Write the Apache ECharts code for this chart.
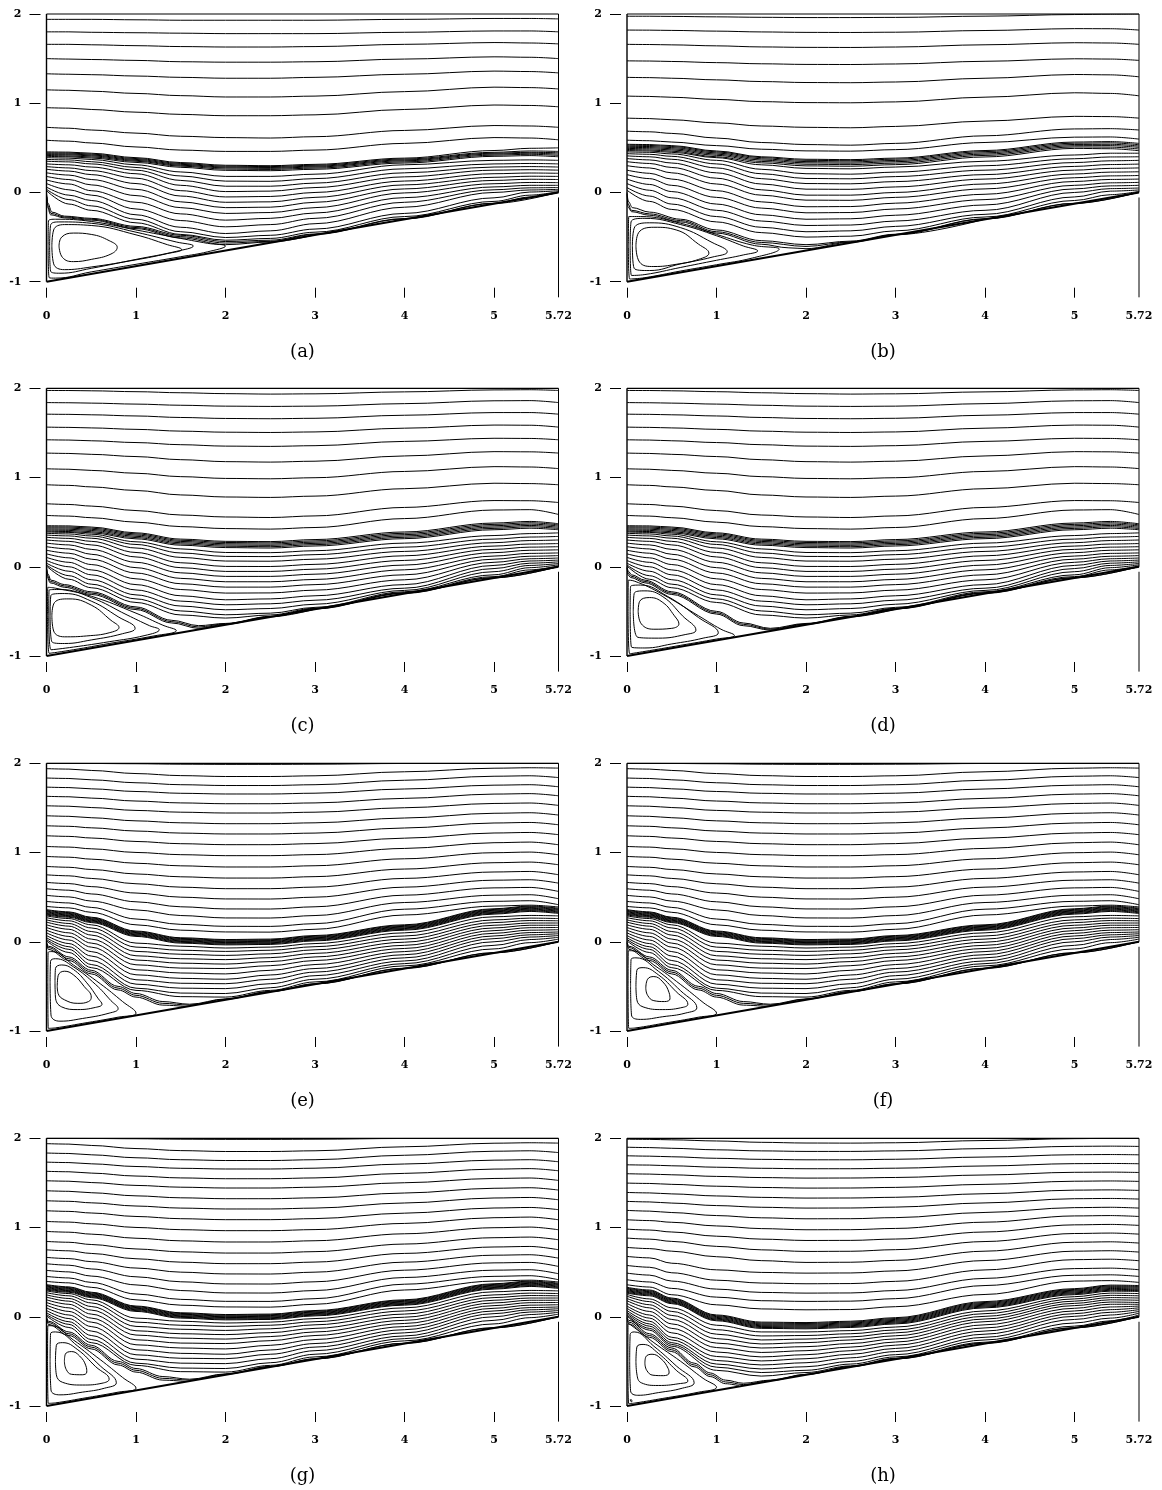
<!DOCTYPE html>
<html>
<head>
<meta charset="utf-8">
<script src="https://cdn.jsdelivr.net/npm/echarts@6/dist/echarts.min.js"></script>
<style>
html,body{margin:0;padding:0;background:#fff;}
#chart{width:1162px;height:1490px;}
</style>
</head>
<body>
<div id="chart"></div>
<script>
// Streamlines of the flow over a backward-inclined step, eight cases (a)-(h).
// Through-flow streamlines are sampled at the shared x stations below.
const X = [0, 0.25, 0.5, 1, 1.5, 2, 2.5, 3, 4, 5, 5.4, 5.72];

const xTickLabels = [0, 1, 2, 3, 4, 5, 5.72];
const xTickMarks = [0, 1, 2, 3, 4, 5];
const panelLabels = ['(a)', '(b)', '(c)', '(d)', '(e)', '(f)', '(g)', '(h)'];

// channel outline: top wall, inflow side, outflow side, inclined bottom wall
const topWall = [[0, 2], [5.72, 2]];
const inflowSide = [[0, -1], [0, 2]];
const outflowSide = [[5.72, 0], [5.72, 2]];
const bottomWall = [[0, -1], [5.72, 0]];
const outflowTick = [[5.72, -0.056], [5.72, -1.175]];

// ---------- (a) ----------
const upperA = [
  [1.94,1.94,1.94,1.935,1.93,1.93,1.93,1.93,1.94,1.95,1.95,1.945],
  [1.80,1.80,1.795,1.79,1.785,1.78,1.78,1.78,1.795,1.81,1.81,1.80],
  [1.66,1.66,1.655,1.645,1.635,1.63,1.63,1.635,1.66,1.68,1.675,1.665],
  [1.50,1.495,1.49,1.48,1.465,1.46,1.46,1.465,1.495,1.52,1.515,1.50],
  [1.33,1.325,1.32,1.305,1.29,1.28,1.28,1.29,1.325,1.36,1.355,1.34],
  [1.15,1.145,1.135,1.11,1.085,1.07,1.07,1.08,1.13,1.18,1.175,1.16],
  [0.95,0.945,0.93,0.90,0.875,0.86,0.86,0.87,0.93,0.98,0.975,0.96],
  [0.73,0.72,0.70,0.665,0.63,0.615,0.61,0.625,0.695,0.75,0.745,0.73],
  [0.585,0.575,0.555,0.51,0.475,0.46,0.46,0.475,0.55,0.615,0.61,0.59]
];
const bandA = [
  [0.455,0.452,0.44,0.39,0.335,0.305,0.30,0.315,0.385,0.47,0.495,0.50],
  [0.445,0.442,0.43,0.38,0.325,0.295,0.29,0.305,0.375,0.45,0.465,0.46],
  [0.435,0.432,0.42,0.37,0.315,0.285,0.28,0.295,0.365,0.44,0.45,0.445],
  [0.425,0.422,0.41,0.36,0.305,0.275,0.27,0.285,0.355,0.43,0.44,0.43],
  [0.415,0.41,0.398,0.35,0.295,0.262,0.258,0.273,0.343,0.418,0.428,0.415],
  [0.405,0.40,0.386,0.337,0.282,0.248,0.244,0.26,0.33,0.405,0.413,0.40]
];
const lowerA = [
  [0.39,0.385,0.37,0.31,0.23,0.18,0.18,0.205,0.31,0.36,0.365,0.36],
  [0.37,0.365,0.345,0.28,0.185,0.127,0.125,0.155,0.265,0.32,0.325,0.32],
  [0.35,0.343,0.32,0.25,0.135,0.07,0.07,0.105,0.22,0.285,0.29,0.285],
  [0.32,0.31,0.285,0.21,0.08,0.01,0.015,0.055,0.175,0.25,0.255,0.25],
  [0.29,0.275,0.245,0.16,0.02,-0.05,-0.045,0.0,0.128,0.21,0.218,0.215],
  [0.26,0.24,0.2,0.1,-0.04,-0.11,-0.105,-0.055,0.085,0.17,0.182,0.18],
  [0.22,0.195,0.145,0.035,-0.105,-0.17,-0.165,-0.11,0.04,0.135,0.148,0.145],
  [0.18,0.145,0.085,-0.035,-0.17,-0.235,-0.225,-0.17,-0.005,0.098,0.112,0.11],
  [0.14,0.095,0.02,-0.11,-0.24,-0.31,-0.29,-0.23,-0.058,0.062,0.08,0.08],
  [0.10,0.03,-0.03,-0.185,-0.315,-0.385,-0.36,-0.29,-0.11,0.03,0.052,0.055],
  [0.06,-0.03,-0.09,-0.25,-0.39,-0.46,-0.43,-0.35,-0.165,0.0,0.028,0.035],
  [0.035,-0.08,-0.15,-0.30,-0.44,-0.505,-0.48,-0.41,-0.235,-0.06,0.005,0.02],
  [0.02,-0.13,-0.2,-0.34,-0.47,-0.535,-0.515,-0.445,-0.27,-0.1,-0.03,0.01]
];
const sepA = [
  [[0,0],[0.015,-0.12],[0.06,-0.22],[0.2,-0.265],[0.5,-0.29],[1,-0.38],[1.5,-0.48],[2,-0.55],[2.5,-0.535],[3,-0.465],[4,-0.292],[5,-0.12],[5.4,-0.052],[5.72,0.004]],
  [[0,-0.02],[0.012,-0.14],[0.05,-0.235],[0.2,-0.275],[0.5,-0.3],[1,-0.393],[1.5,-0.495],[2,-0.567],[2.5,-0.548],[3,-0.47],[4,-0.296],[5,-0.123],[5.72,0.002]],
  [[0.005,-0.05],[0.01,-0.16],[0.045,-0.25],[0.2,-0.285],[0.5,-0.31],[1,-0.405],[1.5,-0.51],[2,-0.585],[2.5,-0.555],[3,-0.474]]
];
const eddyA = [
  [[0.14,-0.6],[0.17,-0.5],[0.3,-0.455],[0.5,-0.47],[0.7,-0.54],[0.79,-0.615],[0.72,-0.69],[0.5,-0.75],[0.3,-0.775],[0.18,-0.73],[0.14,-0.6]],
  [[0.06,-0.6],[0.08,-0.42],[0.2,-0.36],[0.5,-0.37],[1.0,-0.475],[1.35,-0.585],[1.51,-0.64],[1.35,-0.685],[1.0,-0.755],[0.5,-0.835],[0.2,-0.865],[0.08,-0.8],[0.06,-0.6]],
  [[0.035,-0.6],[0.045,-0.37],[0.15,-0.33],[0.5,-0.345],[1.0,-0.445],[1.45,-0.555],[1.64,-0.6],[1.45,-0.66],[1.0,-0.75],[0.5,-0.85],[0.15,-0.905],[0.045,-0.88],[0.035,-0.6]],
  [[0.018,-0.6],[0.022,-0.32],[0.1,-0.3],[0.5,-0.325],[1.0,-0.42],[1.5,-0.515],[1.8,-0.57],[2.0,-0.6],[1.8,-0.665],[1.5,-0.72],[1.0,-0.805],[0.5,-0.89],[0.1,-0.96],[0.03,-0.955],[0.018,-0.6]]
];

// ---------- (b) ----------
const upperB = [
  [1.975,1.975,1.973,1.968,1.963,1.96,1.96,1.962,1.976,1.994,1.998,2.0],
  [1.82,1.819,1.816,1.808,1.799,1.794,1.793,1.796,1.815,1.836,1.835,1.82],
  [1.66,1.658,1.654,1.643,1.631,1.626,1.625,1.63,1.655,1.678,1.675,1.66],
  [1.475,1.473,1.468,1.455,1.442,1.435,1.434,1.44,1.47,1.498,1.495,1.48],
  [1.29,1.287,1.28,1.262,1.243,1.232,1.23,1.238,1.28,1.322,1.318,1.296],
  [1.08,1.076,1.067,1.043,1.018,1.007,1.005,1.015,1.068,1.117,1.11,1.083],
  [0.833,0.828,0.815,0.78,0.745,0.73,0.725,0.74,0.8,0.853,0.85,0.833],
  [0.687,0.68,0.662,0.61,0.56,0.537,0.53,0.55,0.635,0.712,0.715,0.70],
  [0.586,0.58,0.565,0.525,0.485,0.466,0.463,0.48,0.56,0.62,0.622,0.598]
];
const bandB = [
  [0.54,0.537,0.525,0.465,0.40,0.372,0.368,0.385,0.47,0.565,0.57,0.55],
  [0.53,0.527,0.515,0.455,0.39,0.36,0.356,0.373,0.458,0.552,0.556,0.535],
  [0.518,0.515,0.503,0.443,0.377,0.346,0.342,0.359,0.444,0.538,0.54,0.52],
  [0.506,0.503,0.49,0.43,0.363,0.332,0.328,0.345,0.43,0.524,0.525,0.505],
  [0.494,0.49,0.477,0.416,0.348,0.316,0.312,0.329,0.415,0.51,0.508,0.487],
  [0.482,0.477,0.463,0.4,0.332,0.298,0.294,0.312,0.398,0.494,0.49,0.468]
];
const lowerB = [
  [0.47,0.465,0.45,0.39,0.31,0.27,0.265,0.285,0.35,0.42,0.44,0.44],
  [0.455,0.45,0.432,0.36,0.26,0.21,0.205,0.228,0.30,0.378,0.398,0.40],
  [0.435,0.428,0.405,0.32,0.21,0.157,0.153,0.178,0.25,0.335,0.355,0.36],
  [0.41,0.4,0.372,0.275,0.155,0.10,0.097,0.122,0.20,0.292,0.313,0.318],
  [0.38,0.365,0.33,0.22,0.095,0.037,0.035,0.062,0.15,0.25,0.27,0.275],
  [0.345,0.325,0.28,0.16,0.03,-0.03,-0.03,0.0,0.095,0.207,0.228,0.232],
  [0.30,0.275,0.22,0.095,-0.03,-0.086,-0.088,-0.055,0.04,0.165,0.186,0.19],
  [0.25,0.215,0.15,0.02,-0.105,-0.16,-0.158,-0.12,-0.02,0.123,0.146,0.15],
  [0.20,0.155,0.08,-0.055,-0.175,-0.228,-0.225,-0.185,-0.08,0.08,0.108,0.113],
  [0.15,0.09,0.01,-0.13,-0.25,-0.30,-0.295,-0.255,-0.14,0.04,0.074,0.08],
  [0.10,0.025,-0.06,-0.2,-0.32,-0.37,-0.365,-0.32,-0.2,0.0,0.043,0.05],
  [0.055,-0.04,-0.13,-0.27,-0.39,-0.44,-0.43,-0.38,-0.245,-0.05,0.015,0.028],
  [0.025,-0.1,-0.19,-0.33,-0.45,-0.50,-0.49,-0.43,-0.275,-0.09,-0.025,0.012]
];
const sepB = [
  [[0,0],[0.015,-0.1],[0.06,-0.17],[0.25,-0.22],[0.6,-0.3],[1,-0.42],[1.5,-0.54],[2,-0.585],[2.5,-0.545],[3,-0.468],[4,-0.294],[5,-0.121],[5.72,0.004]],
  [[0,-0.02],[0.012,-0.13],[0.05,-0.2],[0.25,-0.24],[0.6,-0.315],[1,-0.44],[1.5,-0.56],[2,-0.605],[2.5,-0.553],[3,-0.472],[4,-0.297],[5,-0.123],[5.72,0.002]],
  [[0.005,-0.05],[0.01,-0.16],[0.05,-0.215],[0.25,-0.255],[0.6,-0.33],[1,-0.455],[1.5,-0.58],[1.8,-0.62],[2,-0.63],[2.5,-0.558],[3,-0.474],[4,-0.299]]
];
const eddyB = [
  [[0.1,-0.6],[0.13,-0.45],[0.3,-0.39],[0.55,-0.42],[0.8,-0.58],[0.915,-0.68],[0.8,-0.75],[0.55,-0.805],[0.3,-0.83],[0.14,-0.78],[0.1,-0.6]],
  [[0.06,-0.6],[0.08,-0.4],[0.25,-0.34],[0.6,-0.395],[0.95,-0.56],[1.12,-0.665],[0.95,-0.725],[0.6,-0.8],[0.25,-0.875],[0.08,-0.85],[0.06,-0.6]],
  [[0.035,-0.6],[0.045,-0.33],[0.2,-0.29],[0.6,-0.36],[1.0,-0.485],[1.3,-0.6],[1.46,-0.655],[1.3,-0.7],[1.0,-0.76],[0.6,-0.84],[0.2,-0.92],[0.05,-0.93],[0.035,-0.6]],
  [[0.015,-0.6],[0.02,-0.27],[0.15,-0.27],[0.6,-0.345],[1.0,-0.47],[1.4,-0.59],[1.7,-0.635],[1.4,-0.735],[1.0,-0.81],[0.6,-0.88],[0.2,-0.955],[0.03,-0.97],[0.015,-0.6]]
];

// ---------- (c) and (d): outer flow ----------
const upperCD = [
  [1.976,1.975,1.972,1.962,1.95,1.94,1.935,1.938,1.96,1.982,1.984,1.976],
  [1.84,1.838,1.834,1.823,1.81,1.8,1.797,1.8,1.828,1.86,1.862,1.84],
  [1.71,1.708,1.703,1.69,1.673,1.662,1.659,1.664,1.698,1.728,1.728,1.71],
  [1.565,1.562,1.556,1.54,1.52,1.508,1.505,1.511,1.553,1.588,1.586,1.565],
  [1.423,1.42,1.412,1.392,1.368,1.352,1.349,1.357,1.405,1.44,1.438,1.423],
  [1.274,1.27,1.26,1.235,1.2,1.178,1.173,1.183,1.242,1.29,1.288,1.274],
  [1.098,1.093,1.08,1.048,1.01,0.99,0.986,0.998,1.068,1.122,1.118,1.10],
  [0.919,0.912,0.895,0.855,0.805,0.782,0.777,0.792,0.875,0.936,0.932,0.919],
  [0.706,0.698,0.68,0.63,0.58,0.558,0.552,0.57,0.665,0.742,0.74,0.72],
  [0.575,0.568,0.55,0.5,0.45,0.428,0.422,0.44,0.54,0.636,0.64,0.586]
];
const bandCD = [
  [0.46,0.458,0.445,0.38,0.31,0.285,0.282,0.305,0.39,0.49,0.508,0.482],
  [0.448,0.446,0.433,0.368,0.297,0.272,0.268,0.29,0.375,0.475,0.493,0.47],
  [0.436,0.434,0.42,0.355,0.284,0.258,0.254,0.276,0.36,0.46,0.478,0.457],
  [0.424,0.421,0.407,0.341,0.27,0.244,0.24,0.262,0.345,0.445,0.463,0.443],
  [0.412,0.408,0.393,0.327,0.256,0.23,0.225,0.248,0.33,0.43,0.448,0.429],
  [0.40,0.395,0.38,0.313,0.242,0.215,0.21,0.233,0.315,0.415,0.432,0.415]
];
const lowerCD = [
  [0.39,0.385,0.365,0.28,0.2,0.16,0.158,0.18,0.265,0.35,0.372,0.38],
  [0.375,0.368,0.345,0.25,0.155,0.116,0.114,0.136,0.22,0.31,0.333,0.34],
  [0.355,0.346,0.32,0.21,0.105,0.064,0.062,0.085,0.172,0.27,0.294,0.30],
  [0.33,0.318,0.285,0.16,0.045,0.004,0.003,0.027,0.123,0.232,0.255,0.26],
  [0.30,0.285,0.245,0.11,-0.01,-0.052,-0.052,-0.027,0.071,0.195,0.22,0.225],
  [0.265,0.245,0.195,0.05,-0.068,-0.108,-0.108,-0.083,0.019,0.158,0.185,0.19],
  [0.225,0.2,0.14,-0.01,-0.13,-0.168,-0.168,-0.142,-0.034,0.12,0.15,0.155],
  [0.185,0.152,0.085,-0.07,-0.19,-0.228,-0.228,-0.2,-0.09,0.085,0.118,0.125],
  [0.145,0.1,0.025,-0.135,-0.255,-0.295,-0.293,-0.262,-0.146,0.05,0.09,0.098],
  [0.105,0.05,-0.035,-0.2,-0.325,-0.37,-0.36,-0.325,-0.2,0.015,0.065,0.075],
  [0.07,0.0,-0.09,-0.26,-0.385,-0.426,-0.415,-0.375,-0.24,-0.02,0.04,0.055],
  [0.04,-0.05,-0.145,-0.315,-0.44,-0.482,-0.468,-0.42,-0.265,-0.055,0.015,0.037],
  [0.02,-0.1,-0.195,-0.36,-0.495,-0.538,-0.52,-0.455,-0.28,-0.09,-0.01,0.022],
  [0.008,-0.14,-0.235,-0.4,-0.54,-0.575,-0.54,-0.465,-0.29,-0.11,-0.035,0.01]
];
const sepC = [
  [[0,0],[0.015,-0.08],[0.05,-0.15],[0.2,-0.2],[0.5,-0.28],[1,-0.45],[1.4,-0.6],[1.7,-0.66],[2,-0.635],[2.5,-0.556],[3,-0.47],[4,-0.295],[5,-0.122],[5.72,0.003]],
  [[0,-0.015],[0.012,-0.1],[0.045,-0.165],[0.2,-0.215],[0.5,-0.295],[1,-0.465],[1.4,-0.615],[1.7,-0.675],[2,-0.64],[2.5,-0.559],[3,-0.473],[4,-0.298],[5,-0.124],[5.72,0.002]],
  [[0.005,-0.04],[0.01,-0.12],[0.04,-0.18],[0.2,-0.23],[0.5,-0.31],[1,-0.48],[1.4,-0.63],[1.7,-0.69],[2,-0.645],[2.5,-0.561],[3,-0.475]]
];
const eddyC = [
  [[0.06,-0.55],[0.09,-0.4],[0.25,-0.36],[0.5,-0.43],[0.72,-0.6],[0.81,-0.68],[0.7,-0.74],[0.45,-0.775],[0.2,-0.785],[0.08,-0.72],[0.06,-0.55]],
  [[0.04,-0.55],[0.05,-0.32],[0.2,-0.3],[0.5,-0.385],[0.8,-0.56],[0.99,-0.69],[0.85,-0.75],[0.5,-0.82],[0.2,-0.86],[0.06,-0.84],[0.04,-0.55]],
  [[0.025,-0.55],[0.03,-0.26],[0.15,-0.255],[0.5,-0.345],[0.9,-0.54],[1.15,-0.66],[1.26,-0.705],[1.1,-0.77],[0.7,-0.84],[0.3,-0.9],[0.05,-0.93],[0.025,-0.55]],
  [[0.012,-0.55],[0.015,-0.23],[0.1,-0.24],[0.5,-0.33],[1.0,-0.52],[1.3,-0.655],[1.45,-0.715],[1.2,-0.775],[0.7,-0.86],[0.3,-0.93],[0.03,-0.97],[0.012,-0.55]]
];
const sepD = [
  [[0,0],[0.015,-0.05],[0.05,-0.09],[0.2,-0.15],[0.5,-0.28],[1,-0.5],[1.3,-0.63],[1.6,-0.69],[2,-0.635],[2.5,-0.556],[3,-0.47],[4,-0.295],[5,-0.122],[5.72,0.003]],
  [[0,-0.015],[0.012,-0.07],[0.045,-0.105],[0.2,-0.165],[0.5,-0.295],[1,-0.515],[1.3,-0.645],[1.6,-0.7],[2,-0.64],[2.5,-0.559],[3,-0.473],[4,-0.298],[5,-0.124],[5.72,0.002]],
  [[0.005,-0.035],[0.01,-0.09],[0.04,-0.12],[0.2,-0.18],[0.5,-0.31],[1,-0.53],[1.3,-0.66],[1.6,-0.71],[2,-0.645],[2.5,-0.561],[3,-0.475]]
];
const eddyD = [
  [[0.125,-0.5],[0.14,-0.39],[0.25,-0.345],[0.4,-0.4],[0.53,-0.55],[0.58,-0.64],[0.5,-0.69],[0.3,-0.70],[0.16,-0.64],[0.125,-0.5]],
  [[0.07,-0.5],[0.08,-0.3],[0.2,-0.27],[0.4,-0.335],[0.62,-0.55],[0.77,-0.71],[0.65,-0.76],[0.35,-0.8],[0.12,-0.79],[0.07,-0.5]],
  [[0.035,-0.5],[0.04,-0.22],[0.15,-0.205],[0.45,-0.33],[0.8,-0.57],[1.02,-0.74],[0.85,-0.8],[0.5,-0.865],[0.2,-0.91],[0.05,-0.9],[0.035,-0.5]],
  [[0.012,-0.5],[0.015,-0.15],[0.08,-0.16],[0.4,-0.31],[0.8,-0.55],[1.05,-0.7],[1.2,-0.77],[1.0,-0.81],[0.6,-0.88],[0.25,-0.94],[0.03,-0.975],[0.012,-0.5]]
];

// ---------- (e), (f), (g): outer flow ----------
const upperEFG = [
  [2.0,2.0,1.998,1.995,1.99,1.988,1.988,1.99,1.998,2.0,2.0,2.0],
  [1.94,1.935,1.92,1.885,1.862,1.852,1.852,1.86,1.905,1.945,1.95,1.946],
  [1.835,1.83,1.815,1.782,1.76,1.751,1.751,1.76,1.81,1.855,1.86,1.84],
  [1.733,1.728,1.714,1.684,1.664,1.656,1.656,1.665,1.712,1.755,1.76,1.737],
  [1.63,1.625,1.61,1.577,1.556,1.547,1.547,1.556,1.607,1.655,1.66,1.636],
  [1.524,1.519,1.504,1.472,1.452,1.443,1.443,1.452,1.502,1.55,1.555,1.528],
  [1.412,1.406,1.39,1.355,1.333,1.323,1.323,1.333,1.387,1.44,1.446,1.42],
  [1.30,1.294,1.277,1.241,1.218,1.208,1.208,1.218,1.275,1.331,1.337,1.311],
  [1.188,1.181,1.163,1.124,1.099,1.088,1.088,1.1,1.161,1.219,1.225,1.2],
  [1.068,1.061,1.042,1.001,0.976,0.965,0.965,0.977,1.046,1.11,1.117,1.087],
  [0.956,0.948,0.926,0.88,0.851,0.838,0.838,0.852,0.93,0.998,1.005,0.975],
  [0.844,0.835,0.81,0.76,0.728,0.714,0.714,0.73,0.815,0.886,0.893,0.863],
  [0.75,0.739,0.71,0.65,0.612,0.595,0.595,0.613,0.71,0.782,0.788,0.751],
  [0.665,0.652,0.618,0.546,0.5,0.48,0.479,0.5,0.612,0.69,0.695,0.657],
  [0.594,0.578,0.536,0.448,0.392,0.368,0.367,0.392,0.522,0.604,0.609,0.564],
  [0.52,0.503,0.456,0.357,0.294,0.267,0.266,0.294,0.44,0.522,0.527,0.482],
  [0.452,0.435,0.385,0.255,0.195,0.173,0.172,0.203,0.365,0.453,0.46,0.415],
  [0.396,0.38,0.33,0.19,0.13,0.11,0.108,0.14,0.3,0.4,0.41,0.39]
];
const bandEFG = [
  [0.36,0.335,0.275,0.12,0.045,0.025,0.03,0.07,0.19,0.37,0.40,0.377],
  [0.352,0.327,0.267,0.112,0.037,0.017,0.022,0.062,0.182,0.362,0.392,0.369],
  [0.343,0.318,0.258,0.103,0.028,0.008,0.013,0.053,0.173,0.353,0.383,0.36],
  [0.335,0.31,0.25,0.095,0.02,0.0,0.005,0.045,0.165,0.345,0.375,0.352],
  [0.326,0.301,0.241,0.086,0.011,-0.009,-0.004,0.036,0.156,0.336,0.366,0.343],
  [0.318,0.293,0.233,0.078,0.003,-0.017,-0.012,0.028,0.148,0.328,0.358,0.335],
  [0.309,0.284,0.224,0.069,-0.006,-0.026,-0.021,0.019,0.139,0.319,0.349,0.326],
  [0.30,0.275,0.215,0.06,-0.015,-0.035,-0.03,0.01,0.13,0.31,0.34,0.317]
];
const lowerEFG = [
  [0.29,0.26,0.19,-0.015,-0.05,-0.07,-0.06,-0.02,0.10,0.28,0.295,0.29],
  [0.27,0.235,0.155,-0.06,-0.095,-0.108,-0.095,-0.055,0.065,0.245,0.265,0.26],
  [0.245,0.205,0.115,-0.108,-0.14,-0.153,-0.135,-0.09,0.03,0.215,0.238,0.235],
  [0.22,0.175,0.075,-0.157,-0.19,-0.2,-0.178,-0.13,-0.005,0.185,0.21,0.21],
  [0.19,0.14,0.03,-0.205,-0.24,-0.25,-0.222,-0.17,-0.04,0.155,0.185,0.185],
  [0.16,0.1,-0.015,-0.258,-0.295,-0.30,-0.268,-0.21,-0.075,0.125,0.158,0.16],
  [0.13,0.06,-0.06,-0.314,-0.35,-0.36,-0.32,-0.255,-0.11,0.095,0.13,0.135],
  [0.10,0.02,-0.11,-0.37,-0.41,-0.42,-0.372,-0.30,-0.145,0.065,0.103,0.11],
  [0.07,-0.02,-0.16,-0.426,-0.465,-0.47,-0.42,-0.34,-0.18,0.035,0.078,0.09],
  [0.045,-0.055,-0.21,-0.475,-0.52,-0.525,-0.47,-0.38,-0.215,0.0,0.053,0.07],
  [0.025,-0.085,-0.255,-0.52,-0.575,-0.58,-0.515,-0.42,-0.245,-0.04,0.025,0.05],
  [0.01,-0.12,-0.29,-0.545,-0.615,-0.62,-0.545,-0.45,-0.27,-0.08,-0.01,0.03]
];
const sepEFG = [
  [[0,0],[0.02,-0.05],[0.25,-0.17],[0.5,-0.32],[0.8,-0.5],[1.0,-0.58],[1.3,-0.67],[1.6,-0.7],[2,-0.64],[2.5,-0.557],[3,-0.471],[4,-0.296],[5,-0.122],[5.72,0.003]],
  [[0,-0.015],[0.02,-0.065],[0.25,-0.19],[0.5,-0.34],[0.8,-0.52],[1.0,-0.6],[1.3,-0.69],[1.6,-0.71],[2,-0.644],[2.5,-0.559],[3,-0.473],[4,-0.298],[5,-0.124],[5.72,0.002]],
  [[0.005,-0.035],[0.02,-0.085],[0.25,-0.21],[0.5,-0.36],[0.8,-0.54],[1.0,-0.62],[1.3,-0.71],[1.55,-0.725]]
];
const eddyE = [
  [[0.12,-0.5],[0.13,-0.38],[0.2,-0.33],[0.3,-0.37],[0.42,-0.5],[0.5,-0.62],[0.47,-0.67],[0.35,-0.69],[0.2,-0.65],[0.13,-0.58],[0.12,-0.5]],
  [[0.095,-0.45],[0.1,-0.3],[0.17,-0.26],[0.3,-0.31],[0.45,-0.46],[0.58,-0.64],[0.62,-0.7],[0.55,-0.735],[0.35,-0.76],[0.17,-0.73],[0.1,-0.62],[0.095,-0.45]],
  [[0.04,-0.45],[0.045,-0.22],[0.1,-0.19],[0.3,-0.28],[0.55,-0.48],[0.72,-0.66],[0.80,-0.75],[0.7,-0.8],[0.4,-0.86],[0.15,-0.89],[0.05,-0.82],[0.04,-0.45]],
  [[0.015,-0.45],[0.018,-0.12],[0.06,-0.11],[0.3,-0.26],[0.6,-0.47],[0.85,-0.67],[1.0,-0.8],[0.8,-0.845],[0.4,-0.915],[0.1,-0.965],[0.02,-0.97],[0.015,-0.45]]
];
const eddyF = [
  [[0.21,-0.52],[0.23,-0.42],[0.3,-0.39],[0.4,-0.45],[0.47,-0.57],[0.48,-0.64],[0.42,-0.67],[0.3,-0.66],[0.23,-0.6],[0.21,-0.52]],
  [[0.1,-0.5],[0.11,-0.32],[0.18,-0.29],[0.35,-0.37],[0.55,-0.56],[0.68,-0.7],[0.6,-0.74],[0.4,-0.76],[0.18,-0.73],[0.11,-0.65],[0.1,-0.5]],
  [[0.04,-0.5],[0.045,-0.2],[0.1,-0.18],[0.35,-0.33],[0.6,-0.55],[0.78,-0.74],[0.65,-0.8],[0.4,-0.84],[0.15,-0.87],[0.05,-0.82],[0.04,-0.5]],
  [[0.012,-0.5],[0.015,-0.1],[0.05,-0.1],[0.3,-0.26],[0.6,-0.48],[0.85,-0.68],[1.0,-0.8],[0.8,-0.845],[0.4,-0.915],[0.1,-0.965],[0.02,-0.97],[0.012,-0.5]]
];
const eddyG = [
  [[0.2,-0.5],[0.21,-0.42],[0.28,-0.39],[0.37,-0.44],[0.44,-0.55],[0.45,-0.62],[0.4,-0.65],[0.28,-0.645],[0.22,-0.59],[0.2,-0.5]],
  [[0.1,-0.5],[0.11,-0.32],[0.18,-0.29],[0.35,-0.37],[0.55,-0.56],[0.7,-0.7],[0.62,-0.745],[0.4,-0.765],[0.18,-0.735],[0.11,-0.65],[0.1,-0.5]],
  [[0.04,-0.5],[0.045,-0.19],[0.1,-0.17],[0.35,-0.33],[0.6,-0.55],[0.78,-0.74],[0.65,-0.8],[0.4,-0.845],[0.15,-0.875],[0.05,-0.82],[0.04,-0.5]],
  [[0.012,-0.5],[0.015,-0.1],[0.05,-0.1],[0.3,-0.26],[0.6,-0.48],[0.85,-0.68],[1.0,-0.8],[0.8,-0.845],[0.4,-0.915],[0.1,-0.965],[0.02,-0.97],[0.012,-0.5]]
];

// ---------- (h) ----------
const upperH = [
  [1.99,1.988,1.983,1.97,1.955,1.947,1.946,1.95,1.975,1.996,2.0,2.0],
  [1.90,1.896,1.888,1.871,1.859,1.853,1.853,1.859,1.885,1.91,1.912,1.909],
  [1.804,1.8,1.793,1.776,1.764,1.759,1.759,1.765,1.79,1.816,1.818,1.815],
  [1.703,1.7,1.692,1.676,1.664,1.659,1.659,1.665,1.69,1.716,1.718,1.715],
  [1.603,1.599,1.591,1.573,1.56,1.554,1.555,1.561,1.589,1.619,1.621,1.617],
  [1.498,1.494,1.484,1.463,1.449,1.442,1.443,1.45,1.484,1.519,1.522,1.517],
  [1.393,1.388,1.377,1.354,1.338,1.33,1.331,1.339,1.379,1.419,1.422,1.416],
  [1.293,1.287,1.274,1.246,1.227,1.218,1.219,1.229,1.276,1.323,1.326,1.319],
  [1.192,1.184,1.168,1.134,1.109,1.098,1.099,1.111,1.169,1.223,1.227,1.218],
  [1.087,1.078,1.059,1.018,0.988,0.975,0.976,0.99,1.06,1.13,1.134,1.124],
  [0.982,0.972,0.95,0.903,0.87,0.855,0.856,0.871,0.95,1.03,1.035,1.024],
  [0.882,0.87,0.845,0.789,0.75,0.732,0.734,0.752,0.843,0.933,0.938,0.926],
  [0.777,0.764,0.735,0.673,0.629,0.609,0.611,0.632,0.735,0.835,0.84,0.826],
  [0.676,0.66,0.60,0.526,0.497,0.489,0.491,0.514,0.63,0.735,0.74,0.725],
  [0.575,0.555,0.493,0.41,0.378,0.37,0.372,0.397,0.525,0.64,0.645,0.628],
  [0.489,0.467,0.40,0.31,0.273,0.265,0.267,0.294,0.43,0.54,0.545,0.527],
  [0.415,0.39,0.318,0.22,0.18,0.172,0.175,0.203,0.35,0.465,0.47,0.452],
  [0.359,0.333,0.247,0.134,0.088,0.078,0.081,0.113,0.25,0.4,0.405,0.385]
];
const bandH = [
  [0.33,0.30,0.21,0.02,-0.06,-0.065,-0.05,-0.01,0.17,0.315,0.355,0.35],
  [0.321,0.291,0.201,0.011,-0.07,-0.075,-0.06,-0.02,0.16,0.306,0.346,0.34],
  [0.312,0.282,0.192,0.002,-0.08,-0.085,-0.07,-0.03,0.15,0.297,0.337,0.331],
  [0.302,0.272,0.183,-0.008,-0.09,-0.095,-0.08,-0.04,0.14,0.288,0.327,0.321],
  [0.293,0.263,0.174,-0.018,-0.1,-0.105,-0.09,-0.05,0.13,0.278,0.317,0.311],
  [0.284,0.254,0.165,-0.027,-0.11,-0.115,-0.1,-0.06,0.12,0.268,0.307,0.302],
  [0.274,0.245,0.156,-0.036,-0.12,-0.125,-0.11,-0.07,0.11,0.258,0.297,0.293],
  [0.265,0.235,0.147,-0.045,-0.13,-0.135,-0.12,-0.08,0.10,0.248,0.287,0.284]
];
const lowerH = [
  [0.25,0.2,0.1,-0.095,-0.17,-0.17,-0.155,-0.115,0.065,0.225,0.265,0.26],
  [0.23,0.17,0.06,-0.145,-0.215,-0.21,-0.19,-0.148,0.035,0.2,0.24,0.235],
  [0.205,0.135,0.015,-0.195,-0.26,-0.25,-0.225,-0.18,0.005,0.175,0.215,0.21],
  [0.18,0.1,-0.03,-0.245,-0.305,-0.29,-0.26,-0.213,-0.025,0.15,0.19,0.185],
  [0.15,0.06,-0.08,-0.295,-0.35,-0.335,-0.3,-0.248,-0.055,0.125,0.165,0.16],
  [0.12,0.02,-0.13,-0.345,-0.4,-0.38,-0.34,-0.283,-0.09,0.095,0.14,0.14],
  [0.095,-0.015,-0.18,-0.395,-0.45,-0.425,-0.38,-0.318,-0.125,0.065,0.11,0.12],
  [0.07,-0.05,-0.23,-0.445,-0.495,-0.47,-0.42,-0.355,-0.16,0.035,0.08,0.1],
  [0.05,-0.08,-0.26,-0.49,-0.54,-0.515,-0.46,-0.39,-0.195,0.005,0.05,0.08],
  [0.035,-0.105,-0.29,-0.53,-0.585,-0.56,-0.5,-0.425,-0.23,-0.03,0.02,0.06],
  [0.02,-0.13,-0.31,-0.565,-0.625,-0.6,-0.53,-0.45,-0.26,-0.07,-0.015,0.04],
  [0.01,-0.15,-0.33,-0.6,-0.665,-0.625,-0.55,-0.465,-0.285,-0.105,-0.045,0.02]
];
const sepH = [
  [[0,0],[0.02,-0.04],[0.25,-0.19],[0.5,-0.35],[0.75,-0.52],[0.93,-0.63],[1.1,-0.71],[1.3,-0.745],[1.6,-0.71],[2,-0.645],[2.5,-0.557],[3,-0.471],[4,-0.296],[5,-0.122],[5.72,0.003]],
  [[0,-0.015],[0.02,-0.06],[0.25,-0.21],[0.5,-0.37],[0.75,-0.54],[0.93,-0.65],[1.1,-0.73],[1.3,-0.76],[1.6,-0.716],[2,-0.647],[2.5,-0.559],[3,-0.473],[4,-0.298],[5,-0.124],[5.72,0.002]],
  [[0.005,-0.035],[0.02,-0.08],[0.25,-0.23],[0.5,-0.39],[0.75,-0.56],[0.93,-0.67],[1.1,-0.75],[1.25,-0.772]]
];
const eddyH = [
  [[0.2,-0.52],[0.21,-0.45],[0.28,-0.42],[0.38,-0.47],[0.46,-0.58],[0.47,-0.63],[0.41,-0.66],[0.29,-0.655],[0.22,-0.6],[0.2,-0.52]],
  [[0.1,-0.5],[0.11,-0.34],[0.18,-0.31],[0.35,-0.41],[0.55,-0.6],[0.68,-0.72],[0.58,-0.75],[0.35,-0.77],[0.16,-0.74],[0.11,-0.64],[0.1,-0.5]],
  [[0.03,-0.5],[0.035,-0.2],[0.08,-0.17],[0.3,-0.33],[0.55,-0.55],[0.75,-0.74],[0.62,-0.8],[0.35,-0.85],[0.12,-0.88],[0.04,-0.83],[0.03,-0.5]],
  [[0.01,-0.5],[0.012,-0.08],[0.04,-0.09],[0.3,-0.29],[0.6,-0.5],[0.85,-0.69],[1.0,-0.79],[0.8,-0.845],[0.4,-0.915],[0.1,-0.965],[0.02,-0.975],[0.01,-0.5]],
  [[0.035,-0.93],[0.055,-0.935],[0.05,-0.955],[0.035,-0.93]]
];

const panels = [
  { flow: [upperA, bandA, lowerA], sep: sepA, eddy: eddyA },
  { flow: [upperB, bandB, lowerB], sep: sepB, eddy: eddyB },
  { flow: [upperCD, bandCD, lowerCD], sep: sepC, eddy: eddyC },
  { flow: [upperCD, bandCD, lowerCD], sep: sepD, eddy: eddyD },
  { flow: [upperEFG, bandEFG, lowerEFG], sep: sepEFG, eddy: eddyE },
  { flow: [upperEFG, bandEFG, lowerEFG], sep: sepEFG, eddy: eddyF },
  { flow: [upperEFG, bandEFG, lowerEFG], sep: sepEFG, eddy: eddyG },
  { flow: [upperH, bandH, lowerH], sep: sepH, eddy: eddyH }
];

// ---------- layout ----------
const COL_LEFT = [46.5, 627];
const ROW_TOP = [14, 388.3, 763.3, 1138.3];
const PLOT_W = 512;
const PLOT_H = 267.7;
const FONT = '"DejaVu Serif", "Liberation Serif", serif';

const chart = echarts.init(document.getElementById('chart'), null, { renderer: 'canvas', width: 1162, height: 1490 });

const grid = [], xAxis = [], yAxis = [], series = [], graphic = [];

function addLine(idx, data, extra) {
  series.push(Object.assign({
    type: 'line',
    xAxisIndex: idx,
    yAxisIndex: idx,
    data: data,
    symbol: 'none',
    showSymbol: false,
    silent: true,
    animation: false,
    lineStyle: { color: '#000', width: 1 }
  }, extra || {}));
}

function fmtX(v) {
  return Math.abs(v - 5.72) < 1e-6 ? '5.72' : String(Math.round(v));
}

panels.forEach(function (p, i) {
  const col = i % 2, row = Math.floor(i / 2);
  grid.push({ left: COL_LEFT[col], top: ROW_TOP[row], width: PLOT_W, height: PLOT_H, containLabel: false });
  xAxis.push({
    gridIndex: i, type: 'value', min: 0, max: 5.72, position: 'bottom', offset: 16,
    axisLine: { show: false, onZero: false },
    axisTick: { show: true, inside: true, length: 10, customValues: xTickMarks, lineStyle: { color: '#000', width: 1 } },
    axisLabel: { customValues: xTickLabels, margin: 13, formatter: fmtX, color: '#000', fontFamily: FONT, fontSize: 11, fontWeight: 'bold' },
    splitLine: { show: false }
  });
  yAxis.push({
    gridIndex: i, type: 'value', min: -1, max: 2, interval: 1, position: 'left', offset: 6,
    axisLine: { show: false, onZero: false },
    axisTick: { show: true, inside: false, length: 11, lineStyle: { color: '#000', width: 1 } },
    axisLabel: { margin: 19, color: '#000', fontFamily: FONT, fontSize: 11, fontWeight: 'bold', formatter: function (v) { return String(v); } },
    splitLine: { show: false }
  });

  // through-flow streamlines
  p.flow.forEach(function (group) {
    group.forEach(function (ys) {
      addLine(i, X.map(function (x, k) { return [x, ys[k]]; }), { smooth: 0.35, smoothMonotone: 'x' });
    });
  });
  // dividing streamlines around the corner eddy
  p.sep.forEach(function (pts) {
    addLine(i, pts, { smooth: 0.35, smoothMonotone: 'x' });
  });
  // closed eddy streamlines
  p.eddy.forEach(function (pts) {
    addLine(i, pts, { smooth: 0.45 });
  });
  // channel outline
  addLine(i, topWall, { clip: false, lineStyle: { color: '#000', width: 1.2 } });
  addLine(i, inflowSide, { clip: false, lineStyle: { color: '#000', width: 1.4 } });
  addLine(i, outflowSide, { clip: false, lineStyle: { color: '#000', width: 1 } });
  addLine(i, bottomWall, { clip: false, lineStyle: { color: '#000', width: 2 } });
  addLine(i, outflowTick, { clip: false, lineStyle: { color: '#000', width: 1 } });

  graphic.push({
    type: 'text',
    x: COL_LEFT[col] + PLOT_W / 2,
    y: ROW_TOP[row] + 338,
    silent: true,
    style: { text: panelLabels[i], fill: '#000', font: '18px ' + FONT, align: 'center', verticalAlign: 'middle', textAlign: 'center', textVerticalAlign: 'middle' }
  });
});

chart.setOption({
  animation: false,
  backgroundColor: '#fff',
  grid: grid,
  xAxis: xAxis,
  yAxis: yAxis,
  series: series,
  graphic: graphic
});
</script>
</body>
</html>
